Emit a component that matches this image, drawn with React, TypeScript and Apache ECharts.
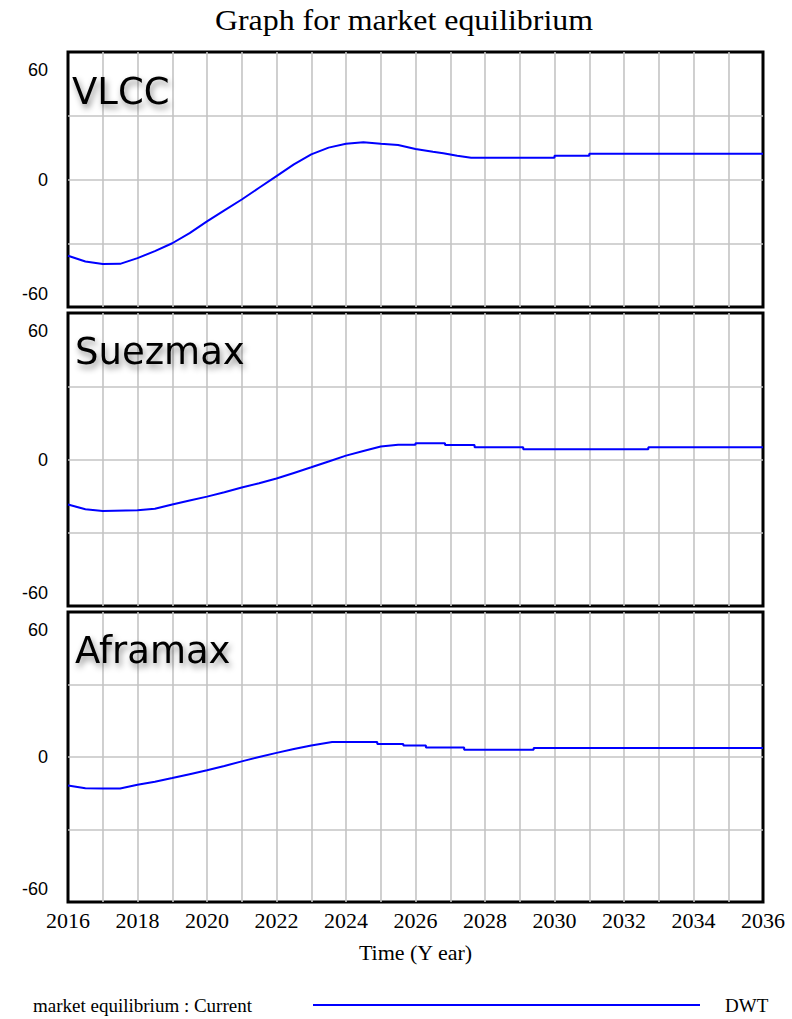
import React, { useEffect, useRef } from "react";
import * as echarts from "echarts";

const TITLE = "Graph for market equilibrium";
const PANEL_NAMES = ["VLCC", "Suezmax", "Aframax"];
const X_MIN = 2016;
const X_MAX = 2036;
const X_TICK_LABELS = ["2016", "2018", "2020", "2022", "2024", "2026", "2028", "2030", "2032", "2034", "2036"];
const Y_TICK_LABELS = ["60", "0", "-60"];
const X_NAME = "Time (Y ear)";
const LEGEND_NAME = "market equilibrium : Current";
const LEGEND_UNIT = "DWT";

const vlcc: number[][] = [
  [2016, -35.9], [2016.5, -38.6], [2017, -39.8], [2017.5, -39.7], [2018, -37], [2018.5, -33.7],
  [2019, -30], [2019.5, -25.2], [2020, -19.7], [2020.5, -14.5], [2021, -9.4], [2021.5, -3.9],
  [2022, 1.6], [2022.5, 7.1], [2023, 11.8], [2023.5, 15], [2024, 16.8], [2024.5, 17.5],
  [2025, 16.8], [2025.5, 16.2], [2026, 14.4], [2026.5, 13.1], [2026.8, 12.4], [2027.2, 11.2],
  [2027.6, 10.2], [2030, 10.2], [2030, 11.2], [2031, 11.2], [2031, 12.1], [2036, 12.1],
];

const suezmax: number[][] = [
  [2016, -18.4], [2016.5, -20.4], [2017, -21.1], [2018, -20.8], [2018.5, -20.2], [2019, -18.4],
  [2019.5, -16.8], [2020, -15.2], [2020.5, -13.4], [2021, -11.5], [2021.5, -9.7], [2022, -7.8],
  [2022.5, -5.5], [2023, -3.2], [2023.5, -0.8], [2024, 1.6], [2024.5, 3.5], [2025, 5.3],
  [2025.5, 6.0], [2026, 6.0], [2026, 6.7], [2026.85, 6.7], [2026.85, 5.9], [2027.7, 5.9],
  [2027.7, 5.0], [2029.1, 5.0], [2029.1, 4.2], [2032.7, 4.2], [2032.7, 5.0], [2036, 5.0],
];

const aframax: number[][] = [
  [2016, -11.8], [2016.5, -12.9], [2017, -13], [2017.5, -13], [2018, -11.5], [2018.5, -10.2],
  [2019, -8.7], [2019.5, -7.1], [2020, -5.5], [2020.5, -3.7], [2021, -1.8], [2021.5, 0],
  [2022, 1.7], [2022.5, 3.3], [2023, 4.8], [2023.6, 6.2], [2024.9, 6.2], [2024.9, 5.4],
  [2025.65, 5.4], [2025.65, 4.8], [2026.3, 4.8], [2026.3, 3.9], [2027.4, 3.9], [2027.4, 3.0],
  [2029.4, 3.0], [2029.4, 3.7], [2036, 3.7],
];

const SERIES_DATA = [vlcc, suezmax, aframax];

const BLUE = "#0000ff";
const GRID_GRAY = "#c4c4c4";
const SERIF = "'Liberation Serif', 'Times New Roman', serif";
const SANS = "'Liberation Sans', Arial, sans-serif";
const LABEL_FONT = "'DejaVu Sans', 'Noto Sans', sans-serif";

const GRIDS = [
  { top: 52, height: 255 },
  { top: 313, height: 293 },
  { top: 612, height: 290 },
];
const LABEL_POS = [
  { x: 72, y: 91 },
  { x: 75, y: 351 },
  { x: 75, y: 650 },
];

export default function App() {
  const ref = useRef<HTMLDivElement>(null);

  useEffect(() => {
    if (!ref.current) return;
    const chart = echarts.init(ref.current, undefined, { renderer: "svg" });

    const grid = GRIDS.map((g) => ({
      left: 68,
      width: 695,
      top: g.top,
      height: g.height,
      show: true,
      borderColor: "#000",
      borderWidth: 3,
      backgroundColor: "#fff",
      containLabel: false,
    }));

    const xAxis = GRIDS.map((_, i) => ({
      type: "value",
      gridIndex: i,
      min: X_MIN,
      max: X_MAX,
      interval: 1,
      axisLine: { show: false },
      axisTick: { show: false },
      splitLine: {
        show: true,
        showMinLine: false,
        showMaxLine: false,
        lineStyle: { color: GRID_GRAY, width: 1.6 },
      },
      axisLabel:
        i === GRIDS.length - 1
          ? {
              show: true,
              margin: 7,
              color: "#000",
              fontFamily: SERIF,
              fontSize: 22,
              showMinLabel: true,
              showMaxLabel: true,
              formatter: (v: number) => (X_TICK_LABELS.includes(String(v)) ? String(v) : ""),
            }
          : { show: false },
      name: i === GRIDS.length - 1 ? X_NAME : "",
      nameLocation: "middle",
      nameGap: 39,
      nameTextStyle: { color: "#000", fontFamily: SERIF, fontSize: 22 },
    }));

    const yAxis = GRIDS.map((_, i) => ({
      type: "value",
      gridIndex: i,
      min: -60,
      max: 60,
      interval: 30,
      axisLine: { show: false },
      axisTick: { show: false },
      splitLine: {
        show: true,
        showMinLine: false,
        showMaxLine: false,
        lineStyle: { color: GRID_GRAY, width: 1.6 },
      },
      axisLabel: {
        show: true,
        margin: 20,
        color: "#000",
        fontFamily: SANS,
        fontSize: 18,
        showMinLabel: true,
        showMaxLabel: true,
        formatter: (v: number) => {
          const s = String(v);
          if (!Y_TICK_LABELS.includes(s)) return "";
          if (v > 0) return "{t|" + s + "}";
          if (v < 0) return "{b|" + s + "}";
          return s;
        },
        rich: {
          t: { padding: [36, 0, 0, 0], fontFamily: SANS, fontSize: 18, color: "#000" },
          b: { padding: [0, 0, 26, 0], fontFamily: SANS, fontSize: 18, color: "#000" },
        },
      },
    }));

    const series = SERIES_DATA.map((d, i) => ({
      type: "line",
      name: PANEL_NAMES[i],
      xAxisIndex: i,
      yAxisIndex: i,
      data: d,
      showSymbol: false,
      symbol: "none",
      lineStyle: { color: BLUE, width: 2 },
      z: 5,
    }));

    const labelTexts = PANEL_NAMES.map((name, i) => ({
      type: "text",
      x: LABEL_POS[i].x,
      y: LABEL_POS[i].y,
      z: 10,
      style: {
        text: name,
        fill: "#000",
        font: "37px " + LABEL_FONT,
        verticalAlign: "middle",
        textShadowColor: "rgba(0,0,0,0.45)",
        textShadowBlur: 6,
        textShadowOffsetX: 2,
        textShadowOffsetY: 4,
      },
    }));

    const option = {
      animation: false,
      backgroundColor: "#fff",
      grid,
      xAxis,
      yAxis,
      series,
      graphic: [
        {
          type: "text",
          x: 404,
          y: 20,
          scaleX: 1.1,
          originX: 0,
          originY: 0,
          style: {
            text: TITLE,
            fill: "#000",
            font: "29px " + SERIF,
            align: "center",
            verticalAlign: "middle",
          },
        },
        ...labelTexts,
        {
          type: "text",
          x: 33,
          y: 1005,
          style: {
            text: LEGEND_NAME,
            fill: "#000",
            font: "19px " + SERIF,
            verticalAlign: "middle",
          },
        },
        {
          type: "line",
          shape: { x1: 313, y1: 1005, x2: 700, y2: 1005 },
          style: { stroke: BLUE, lineWidth: 2 },
        },
        {
          type: "text",
          x: 725,
          y: 1005,
          style: {
            text: LEGEND_UNIT,
            fill: "#000",
            font: "19px " + SERIF,
            verticalAlign: "middle",
          },
        },
      ],
    };

    chart.setOption(option as any);
    return () => chart.dispose();
  }, []);

  return (
    <div
      ref={ref}
      style={{ position: "absolute", left: 0, top: 0, width: 792, height: 1019, background: "#fff" }}
    />
  );
}
